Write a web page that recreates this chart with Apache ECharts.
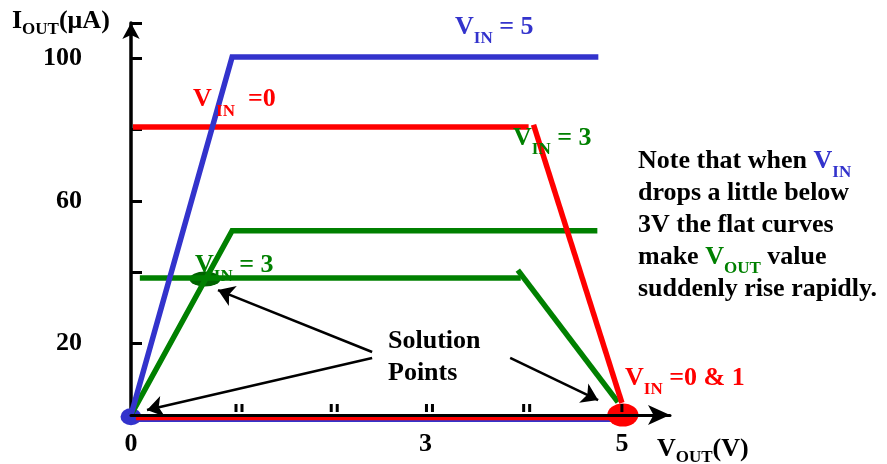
<!DOCTYPE html>
<html>
<head>
<meta charset="utf-8">
<script src="https://cdn.jsdelivr.net/npm/echarts@6/dist/echarts.min.js"></script>
<style>
  html, body { margin: 0; padding: 0; background: #fff; }
  #main { width: 887px; height: 464px; }
</style>
</head>
<body>
<div id="main"></div>
<script>
;
(function() {
  // curves (V_OUT in V, I_OUT in uA)
  var vin5Curve = [[0, 0], [1.03, 100.3], [4.76, 100.3]];
  var vin0Flat = [[0.02, 80.7], [4.05, 80.7]];
  var vin0Drop = [[4.1, 81.3], [5.0, 3.4]];
  var vin0Low = [[0.05, -0.8], [5.0, -0.8]];
  var vin1Low = [[0.05, -1.7], [5.0, -1.7]];
  var vin3High = [[0, 0], [1.03, 51.6], [4.75, 51.6]];
  var vin3Flat = [[0.09, 38.4], [3.97, 38.4]];
  var vin3Drop = [[3.94, 40.6], [4.96, 3.6]];

  // solution points (ellipses)
  var solBlue = [0, -0.5];
  var solGreen = [0.754, 38.1];
  var solRed = [5.01, 0];

  // axis marks
  var xLabelValues = [0, 3, 5];
  var yLabelValues = [20, 60, 100];
  var doubleTicks = [1.1, 2.07, 3.04, 4.03];
  var singleTicks = [5.0];

  // annotation arrows: from -> to
  var arrowFrom = [[2.456, 17.65], [2.456, 15.97], [3.862, 15.97]];
  var arrowTo = [[0.886, 35.0], [0.163, 1.4], [4.758, 4.2]];

  // note text, one entry per line
  var noteLines = [
    '{n|Note that when }{bv|V}{bs|IN}',
    '{n|drops a little below}',
    '{n|3V the flat curves}',
    '{n|make }{gv|V}{gs|OUT}{n| value}',
    '{n|suddenly rise rapidly.}'
  ];

  var BLUE = '#3333cc';
  var RED = '#ff0000';
  var GREEN = '#008000';
  var FONT = '"Liberation Serif", "Times New Roman", serif';

  function lineSeries(data, color, width, z) {
    return {
      type: 'line',
      data: data,
      symbol: 'none',
      clip: false,
      z: z || 3,
      lineStyle: { color: color, width: width, cap: 'butt', join: 'miter' },
      silent: true
    };
  }

  // subscript drop is controlled by the main line height (bottom aligned sub)
  function mainStyle(color, lh) {
    return { fill: color, fontSize: 26, fontWeight: 'bold', fontFamily: FONT, lineHeight: lh };
  }
  function subStyle(color) {
    return { fill: color, fontSize: 17, fontWeight: 'bold', fontFamily: FONT, verticalAlign: 'bottom' };
  }

  function txt(x, y, text, color, lh) {
    return {
      type: 'text',
      x: x,
      y: y,
      z: 50,
      style: {
        text: text,
        rich: { m: mainStyle(color, lh || 40), s: subStyle(color) },
        verticalAlign: 'middle',
        align: 'left'
      }
    };
  }

  var noteRich = {
    n: mainStyle('#000', 40),
    bv: mainStyle(BLUE, 40),
    bs: subStyle(BLUE),
    gv: mainStyle(GREEN, 40),
    gs: subStyle(GREEN)
  };

  var graphics = [
    txt(12, 21, '{m|I}{s|OUT}{m|(μA)}', '#000', 34),
    txt(455, 27, '{m|V}{s|IN}{m| = 5}', BLUE),
    txt(193, 99, '{m|V}{s| IN}{m|  =0}', RED, 42),
    txt(513, 138, '{m|V}{s|IN}{m| = 3}', GREEN),
    txt(195, 265, '{m|V}{s|IN}{m| = 3}', GREEN),
    txt(625, 378, '{m|V}{s|IN}{m| =0 & 1}', RED),
    txt(657, 449, '{m|V}{s|OUT}{m|(V)}', '#000', 34),
    txt(388, 341, '{m|Solution}', '#000'),
    txt(388, 373, '{m|Points}', '#000')
  ];
  noteLines.forEach(function(line, i) {
    graphics.push({
      type: 'text',
      x: 638,
      y: 161 + i * 32,
      z: 50,
      style: { text: line, rich: noteRich, verticalAlign: 'middle', align: 'left' }
    });
  });

  var option = {
    animation: false,
    backgroundColor: '#fff',
    grid: { left: 131, right: 217, top: 23, bottom: 49 },
    xAxis: {
      type: 'value',
      min: 0,
      max: 5.49,
      interval: 1,
      z: 20,
      axisLine: {
        show: true,
        onZero: false,
        symbol: ['none', 'arrow'],
        symbolSize: [15, 22],
        lineStyle: { color: '#000', width: 3 }
      },
      axisTick: { show: false },
      splitLine: { show: false },
      axisLabel: {
        margin: 16,
        color: '#000',
        fontSize: 26,
        fontWeight: 'bold',
        fontFamily: FONT,
        formatter: function(v) {
          return xLabelValues.indexOf(v) >= 0 ? String(v) : '';
        }
      }
    },
    yAxis: {
      type: 'value',
      min: 0,
      max: 109.8,
      interval: 20,
      z: 1,
      axisLine: {
        show: true,
        onZero: false,
        symbol: ['none', 'arrow'],
        symbolSize: [13, 16],
        lineStyle: { color: '#000', width: 3.5 }
      },
      axisTick: {
        show: true,
        inside: true,
        length: 11,
        lineStyle: { color: '#000', width: 3 }
      },
      splitLine: { show: false },
      axisLabel: {
        margin: 49,
        color: '#000',
        fontSize: 26,
        fontWeight: 'bold',
        fontFamily: FONT,
        formatter: function(v) {
          return yLabelValues.indexOf(v) >= 0 ? String(v) : '';
        }
      }
    },
    series: [
      {
        type: 'scatter',
        z: 2,
        silent: true,
        clip: false,
        data: [
          { value: solBlue, symbolSize: [21, 17], itemStyle: { color: BLUE, opacity: 1 } },
          { value: solGreen, symbolSize: [31, 15], itemStyle: { color: '#006400', opacity: 1 } }
        ]
      },
      lineSeries(vin1Low, BLUE, 2, 3),
      lineSeries(vin0Low, RED, 5, 3),
      lineSeries(vin3High, GREEN, 5.5),
      lineSeries(vin3Flat, GREEN, 5.5),
      lineSeries(vin3Drop, GREEN, 5.5),
      lineSeries(vin0Flat, RED, 5.5),
      lineSeries(vin0Drop, RED, 5.5),
      lineSeries(vin5Curve, BLUE, 5.5),
      {
        type: 'scatter',
        z: 6,
        silent: true,
        clip: false,
        data: [
          { value: solRed, symbolSize: [31, 23], itemStyle: { color: RED, opacity: 1 } }
        ]
      },
      {
        type: 'lines',
        coordinateSystem: 'cartesian2d',
        z: 8,
        silent: true,
        symbol: ['none', 'arrow'],
        symbolSize: [14, 16],
        lineStyle: { color: '#000', width: 2.5, opacity: 1 },
        data: arrowFrom.map(function(p, i) {
          return { coords: [p, arrowTo[i]] };
        })
      },
      {
        type: 'scatter',
        z: 30,
        silent: true,
        clip: false,
        symbol: 'path://M0,0 L3,0 L3,8 L0,8 Z M6,0 L9,0 L9,8 L6,8 Z',
        symbolSize: [9, 8],
        symbolOffset: [0, -7],
        itemStyle: { color: '#000', opacity: 1 },
        data: doubleTicks.map(function(v) { return [v, 0]; })
      },
      {
        type: 'scatter',
        z: 30,
        silent: true,
        clip: false,
        symbol: 'rect',
        symbolSize: [3, 8],
        symbolOffset: [0, -7],
        itemStyle: { color: '#000', opacity: 1 },
        data: singleTicks.map(function(v) { return [v, 0]; })
      }
    ],
    graphic: graphics
  };

  var myChart = echarts.init(document.getElementById('main'), null, { renderer: 'canvas' });
  myChart.setOption(option);
})();
</script>
</body>
</html>
